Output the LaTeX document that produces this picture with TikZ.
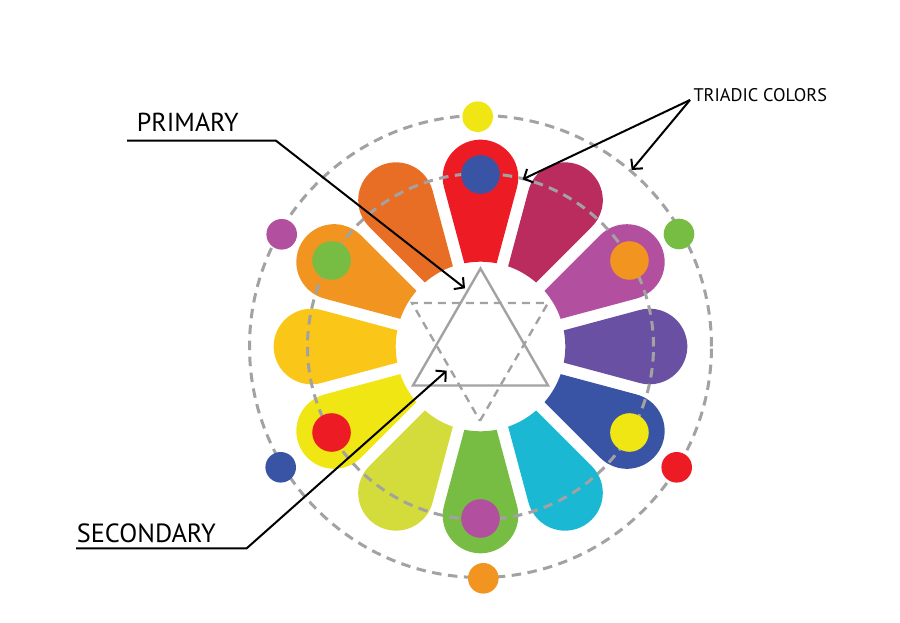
\documentclass[tikz,border=0pt]{standalone}
\usepackage{fontspec}
\setmainfont{PT Sans}
\usetikzlibrary{arrows.meta}
\definecolor{cRed}{HTML}{ED1C24}
\definecolor{cCrim}{HTML}{BA2B5E}
\definecolor{cMag}{HTML}{B24F9F}
\definecolor{cPur}{HTML}{6A50A3}
\definecolor{cBlue}{HTML}{3A54A5}
\definecolor{cCyan}{HTML}{1BB8D4}
\definecolor{cGreen}{HTML}{78BD43}
\definecolor{cYG}{HTML}{D3DC3A}
\definecolor{cYel}{HTML}{F0E614}
\definecolor{cYO}{HTML}{FAC617}
\definecolor{cOr}{HTML}{F29420}
\definecolor{cRO}{HTML}{E96E25}
\definecolor{cGray}{HTML}{A2A2A2}
\begin{document}
\begin{tikzpicture}[x=1pt,y=1pt,
  dashline/.style={draw=cGray,line width=3pt,dash pattern=on 9.5pt off 6.5pt},
  triline/.style={draw=cGray,line width=2.4pt},
  tridash/.style={draw=cGray,line width=2.4pt,dash pattern=on 8pt off 6pt},
  conn/.style={draw=black,line width=2pt},
  arr/.style={-{Straight Barb[length=7pt,width=15pt,line width=2pt]}},
  lbl/.style={inner sep=0pt,text=black}]
\useasboundingbox (0,0) rectangle (900,622);
\coordinate (C) at (480.5,275.5);
% petals
\foreach \a/\c in {90/cRed,60/cCrim,30/cMag,0/cPur,-30/cBlue,-60/cCyan,-90/cGreen,-120/cYG,-150/cYel,180/cYO,150/cOr,120/cRO}{
  \begin{scope}[shift={(C)},rotate=\a-90]
    \fill[\c] (100.98:84.8) -- (-36.51,159.22) arc[start angle=195,end angle=-15,radius=37.8]
      -- (79.02:84.8) arc[start angle=79.02,end angle=100.98,radius=84.8] -- cycle;
  \end{scope}
}
% dashed circles
\draw[dashline] (C) circle[radius=231];
\draw[dashline] (C) circle[radius=173];
% inner dots
\foreach \a/\c in {90/cBlue,30/cOr,-30/cYel,-90/cMag,-150/cRed,150/cGreen}{
  \fill[\c,shift={(C)}] (\a:172) circle[radius=19.3];
}
% outer dots
\foreach \x/\y/\c in {477.7/505.3/cYel,679/388/cGreen,676.7/154.7/cRed,483.3/43.7/cOr,280.7/154.7/cBlue,281.7/387.7/cMag}{
  \fill[\c] (\x,\y) circle[radius=15.3];
}
% triangles
\draw[triline,shift={(C)}] (90:78) -- (210:78) -- (330:78) -- cycle;
\coordinate (D) at (480,279.7);
\draw[tridash,shift={(D)}] (270:78.5) -- (30:78.5) -- (150:78.5) -- cycle;
% labels
\node[lbl,anchor=base west,font=\fontsize{26}{30}\selectfont] (primary) at (136.7,490.3) {PRIMARY};
\node[lbl,anchor=base west,font=\fontsize{26.3}{30}\selectfont] (secondary) at (76.7,79.3) {SECONDARY};
\node[lbl,anchor=base west,font=\fontsize{18.3}{22}\selectfont] (triadic) at (693.3,520.3) {TRIADIC COLORS};
% connectors
\coordinate (p0) at (127,481.3);
\coordinate (p1) at (276,481.3);
\coordinate (p2) at (465,333.7);
\draw[conn,arr] (p0) -- (p1) -- (p2);
\coordinate (s0) at (76,73.7);
\coordinate (s1) at (246.7,73.7);
\coordinate (s2) at (446.7,251.3);
\draw[conn,arr] (s0) -- (s1) -- (s2);
\coordinate (t0) at (690,522);
\coordinate (t1) at (522.7,442.7);
\coordinate (t2) at (631.7,452);
\draw[conn,arr] (t0) -- (t1);
\draw[conn,arr] (t0) -- (t2);
\end{tikzpicture}
\end{document}
